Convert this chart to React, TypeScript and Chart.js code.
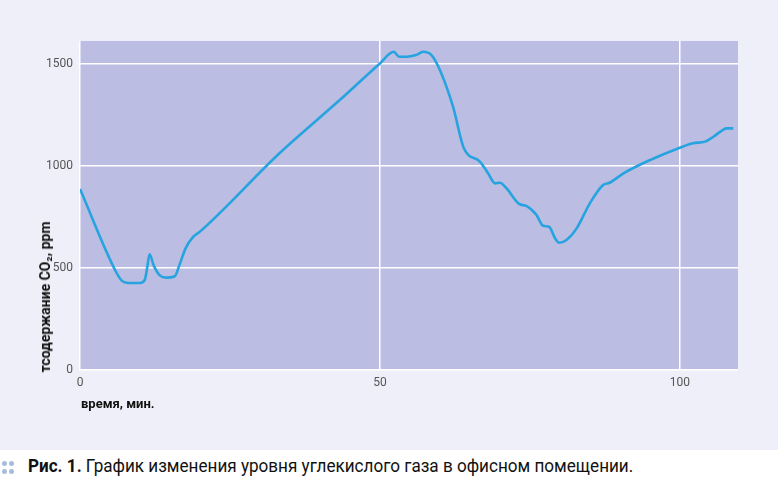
import React, { useEffect, useRef } from "react";
import { Chart, registerables } from "chart.js";

Chart.register(...registerables);

const minutes = [0, 6, 7, 8, 10, 10.8, 11.2, 11.6, 12.3, 13.3, 14.4, 15.8, 16.6, 17.6, 18.9, 20, 33.3, 43.3, 50, 52.3, 53.2, 54.4, 56, 57.2, 58.6, 60, 62.2, 64, 66.7, 68, 69.2, 70, 71.1, 73.2, 74.4, 76.1, 77.2, 78.2, 79.2, 79.9, 81.1, 82.8, 85, 87.2, 88.3, 90.6, 94.4, 100, 102.2, 104.2, 105.6, 107.2, 107.8, 108.9];
const co2 = [886, 480, 435, 425, 425, 440, 500, 566, 510, 462, 451, 458, 515, 595, 652, 677, 1063, 1323, 1503, 1560, 1536, 1536, 1544, 1560, 1544, 1471, 1290, 1086, 1020, 965, 914, 917, 890, 813, 803, 759, 706, 701, 644, 622, 636, 693, 816, 906, 917, 963, 1020, 1089, 1111, 1119, 1143, 1177, 1184, 1184];
const xTicks = [0, 50, 100];
const yTicks = [0, 500, 1000, 1500];
const yTitle = "тсодержание CO₂, ppm";
const xTitle = "время, мин.";
const captionBold = "Рис. 1.";
const captionText = " График изменения уровня углекислого газа в офисном помещении.";

const tickFont = "'Liberation Sans Narrow', 'Roboto', sans-serif";

export default function App() {
  const ref = useRef<HTMLCanvasElement>(null);
  useEffect(() => {
    if (!ref.current) return;
    const chart = new Chart(ref.current, {
      type: "scatter",
      data: {
        datasets: [
          {
            data: minutes.map((m, i) => ({ x: m, y: co2[i] })),
            showLine: true,
            borderColor: "#27a4e0",
            borderWidth: 2.6,
            pointRadius: 0,
            cubicInterpolationMode: "monotone",
            fill: false,
          },
        ],
      },
      options: {
        responsive: false,
        animation: false,
        layout: { padding: { left: 0, right: 40, top: 41, bottom: 0 } },
        plugins: { legend: { display: false }, tooltip: { enabled: false } },
        scales: {
          x: {
            type: "linear",
            min: 0,
            max: 109.7,
            afterBuildTicks: (s: any) => {
              s.ticks = xTicks.map((v) => ({ value: v }));
            },
            afterFit: (s: any) => {
              s.height = 80.5;
            },
            grid: { color: "#ffffff", lineWidth: 1.5, drawTicks: false, drawOnChartArea: true },
            border: { display: false },
            ticks: {
              color: "#555",
              font: { family: tickFont, size: 12 },
              padding: 6,
              maxRotation: 0,
              callback: (v: any) => String(v),
            },
          },
          y: {
            min: 0,
            max: 1613,
            afterBuildTicks: (s: any) => {
              s.ticks = yTicks.map((v) => ({ value: v }));
            },
            afterFit: (s: any) => {
              s.width = 80;
            },
            grid: { color: "#ffffff", lineWidth: 1.5, drawTicks: false },
            border: { display: false },
            ticks: {
              color: "#555",
              font: { family: tickFont, size: 12 },
              padding: 7,
              callback: (v: any) => String(v),
            },
          },
        },
      },
      plugins: [
        {
          id: "bg",
          beforeDraw: (c: any) => {
            const { ctx, chartArea: a } = c;
            ctx.save();
            ctx.fillStyle = "#bbbde2";
            ctx.fillRect(a.left, a.top, a.right - a.left, a.bottom - a.top);
            ctx.restore();
          },
        },
      ],
    });
    return () => chart.destroy();
  }, []);

  return (
    <div style={{ position: "fixed", left: 0, top: 0, width: 778, height: 480, background: "#eeeff8", overflow: "hidden" }}>
      <canvas ref={ref} width={778} height={450} style={{ position: "absolute", left: 0, top: 0, width: 778, height: 450 }} />
      <div
        style={{
          position: "absolute",
          left: 45,
          top: 297,
          transform: "translate(-50%, -50%) rotate(-90deg)",
          whiteSpace: "nowrap",
          fontFamily: "Roboto, 'Noto Sans', sans-serif",
          fontWeight: 700,
          fontSize: 14,
          color: "#111",
        }}
      >
        {yTitle}
      </div>
      <div
        style={{
          position: "absolute",
          left: 81,
          top: 396,
          whiteSpace: "nowrap",
          fontFamily: "Roboto, 'Noto Sans', sans-serif",
          fontWeight: 700,
          fontSize: 13,
          color: "#111",
        }}
      >
        {xTitle}
      </div>
      <div style={{ position: "absolute", left: 0, top: 450, width: 778, height: 30, background: "#ffffff" }}>
        {[0, 1].map((r) =>
          [0, 1].map((c) => (
            <div
              key={r + "-" + c}
              style={{
                position: "absolute",
                left: 2 + c * 7,
                top: 11 + r * 8,
                width: 5,
                height: 5,
                borderRadius: "50%",
                background: "#a6bcdc",
              }}
            />
          ))
        )}
        <div
          style={{
            position: "absolute",
            left: 28,
            top: 5,
            whiteSpace: "nowrap",
            fontFamily: "Roboto, sans-serif",
            fontSize: 18,
            color: "#111",
            transform: "scaleX(0.95)",
            transformOrigin: "left center",
          }}
        >
          <b>{captionBold}</b>
          {captionText}
        </div>
      </div>
    </div>
  );
}
